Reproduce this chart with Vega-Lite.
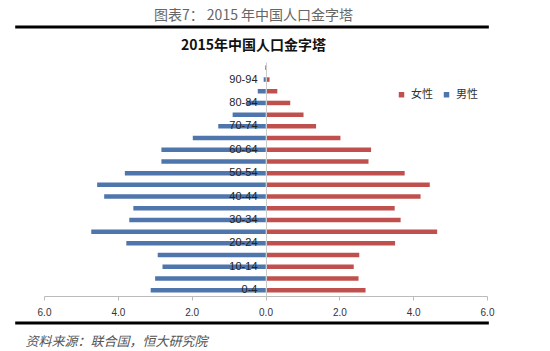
{
  "$schema": "https://vega.github.io/schema/vega-lite/v6.json",
  "width": 443,
  "height": 234,
  "autosize": {"type": "none"},
  "padding": {"left": 44, "top": 62, "right": 63, "bottom": 55},
  "background": "white",
  "config": {"view": {"stroke": null}, "font": "Noto Sans CJK SC"},
  "title": {
    "text": "图表7：  2015 年中国人口金字塔",
    "subtitle": "2015年中国人口金字塔",
    "anchor": "middle",
    "frame": "group",
    "dx": -12,
    "font": "Noto Sans CJK SC",
    "fontSize": 14,
    "fontWeight": "normal",
    "color": "#666666",
    "subtitleFont": "Noto Sans CJK SC",
    "subtitleFontSize": 14,
    "subtitleFontWeight": "bold",
    "subtitleColor": "#111111",
    "subtitlePadding": 16,
    "offset": -28
  },
  "datasets": {
    "pop": [
      {"age": "0-4", "sex": "男性", "value": -3.11},
      {"age": "5-9", "sex": "男性", "value": -2.99},
      {"age": "10-14", "sex": "男性", "value": -2.79},
      {"age": "15-19", "sex": "男性", "value": -2.92},
      {"age": "20-24", "sex": "男性", "value": -3.77},
      {"age": "25-29", "sex": "男性", "value": -4.72},
      {"age": "30-34", "sex": "男性", "value": -3.69},
      {"age": "35-39", "sex": "男性", "value": -3.58},
      {"age": "40-44", "sex": "男性", "value": -4.37},
      {"age": "45-49", "sex": "男性", "value": -4.56},
      {"age": "50-54", "sex": "男性", "value": -3.81},
      {"age": "55-59", "sex": "男性", "value": -2.82},
      {"age": "60-64", "sex": "男性", "value": -2.82},
      {"age": "65-69", "sex": "男性", "value": -1.97},
      {"age": "70-74", "sex": "男性", "value": -1.28},
      {"age": "75-79", "sex": "男性", "value": -0.89},
      {"age": "80-84", "sex": "男性", "value": -0.5},
      {"age": "85-89", "sex": "男性", "value": -0.21},
      {"age": "90-94", "sex": "男性", "value": -0.05},
      {"age": "95-99", "sex": "男性", "value": -0.01},
      {"age": "0-4", "sex": "女性", "value": 2.71},
      {"age": "5-9", "sex": "女性", "value": 2.52},
      {"age": "10-14", "sex": "女性", "value": 2.39},
      {"age": "15-19", "sex": "女性", "value": 2.54},
      {"age": "20-24", "sex": "女性", "value": 3.51},
      {"age": "25-29", "sex": "女性", "value": 4.65},
      {"age": "30-34", "sex": "女性", "value": 3.66},
      {"age": "35-39", "sex": "女性", "value": 3.5},
      {"age": "40-44", "sex": "女性", "value": 4.2},
      {"age": "45-49", "sex": "女性", "value": 4.45},
      {"age": "50-54", "sex": "女性", "value": 3.77},
      {"age": "55-59", "sex": "女性", "value": 2.79},
      {"age": "60-64", "sex": "女性", "value": 2.86},
      {"age": "65-69", "sex": "女性", "value": 2.03},
      {"age": "70-74", "sex": "女性", "value": 1.37},
      {"age": "75-79", "sex": "女性", "value": 1.03},
      {"age": "80-84", "sex": "女性", "value": 0.67},
      {"age": "85-89", "sex": "女性", "value": 0.32},
      {"age": "90-94", "sex": "女性", "value": 0.11},
      {"age": "95-99", "sex": "女性", "value": 0.02}
    ]
  },
  "layer": [
    {
      "data": {"name": "pop"},
      "mark": {"type": "bar", "size": 4.5},
      "encoding": {
        "y": {
          "field": "age",
          "type": "nominal",
          "sort": ["95-99", "90-94", "85-89", "80-84", "75-79", "70-74", "65-69", "60-64", "55-59", "50-54", "45-49", "40-44", "35-39", "30-34", "25-29", "20-24", "15-19", "10-14", "5-9", "0-4"],
          "scale": {"paddingInner": 0, "paddingOuter": 0},
          "axis": {
            "title": null,
            "offset": -222,
            "zindex": 1,
            "domainColor": "#cccccc",
            "ticks": false,
            "labelPadding": 9,
            "labelFont": "Liberation Sans",
            "labelFontSize": 11,
            "labelColor": "#222222",
            "labelExpr": "parseInt(split(datum.value, '-')[0]) % 10 == 0 ? datum.value : ''"
          }
        },
        "x": {
          "field": "value",
          "type": "quantitative",
          "scale": {"domain": [-6, 6], "nice": false},
          "axis": {
            "values": [-6, -4, -2, 0, 2, 4, 6],
            "labelExpr": "format(abs(datum.value), '.1f')",
            "labelFlush": false,
            "grid": false,
            "domainColor": "#bbbbbb",
            "tickColor": "#bbbbbb",
            "tickSize": 4,
            "labelPadding": 7,
            "labelFont": "Liberation Sans",
            "labelFontSize": 10,
            "labelColor": "#333333",
            "title": "资料来源：联合国，恒大研究院",
            "titleFont": "Noto Sans CJK SC",
            "titleFontSize": 13,
            "titleFontStyle": "italic",
            "titleFontWeight": "normal",
            "titleColor": "#555555",
            "titleAlign": "left",
            "titleAnchor": "start",
            "titleBaseline": "middle",
            "titleX": -19,
            "titleY": 45
          }
        },
        "color": {
          "field": "sex",
          "type": "nominal",
          "scale": {"domain": ["女性", "男性"], "range": ["#C0504D", "#4F76AC"]},
          "legend": {
            "title": null,
            "orient": "none",
            "direction": "horizontal",
            "legendX": 352,
            "legendY": 27,
            "symbolType": "square",
            "symbolSize": 30,
            "symbolStrokeWidth": 0,
            "labelFontSize": 11,
            "labelColor": "#333333",
            "columnPadding": 8
          }
        }
      }
    },
    {
      "data": {"values": [{}]},
      "mark": {"type": "rule", "strokeWidth": 3, "color": "#000000", "clip": false},
      "encoding": {
        "x": {"datum": -6.78, "type": "quantitative"},
        "x2": {"datum": 6.05},
        "y": {"datum": 1.15, "type": "quantitative", "scale": {"domain": [0, 1]}, "axis": null}
      }
    },
    {
      "data": {"values": [{}]},
      "mark": {"type": "rule", "strokeWidth": 3, "color": "#000000", "clip": false},
      "encoding": {
        "x": {"datum": -6.78, "type": "quantitative"},
        "x2": {"datum": 6.05},
        "y": {"datum": -0.115, "type": "quantitative", "scale": {"domain": [0, 1]}, "axis": null}
      }
    }
  ],
  "resolve": {"scale": {"y": "independent"}}
}
